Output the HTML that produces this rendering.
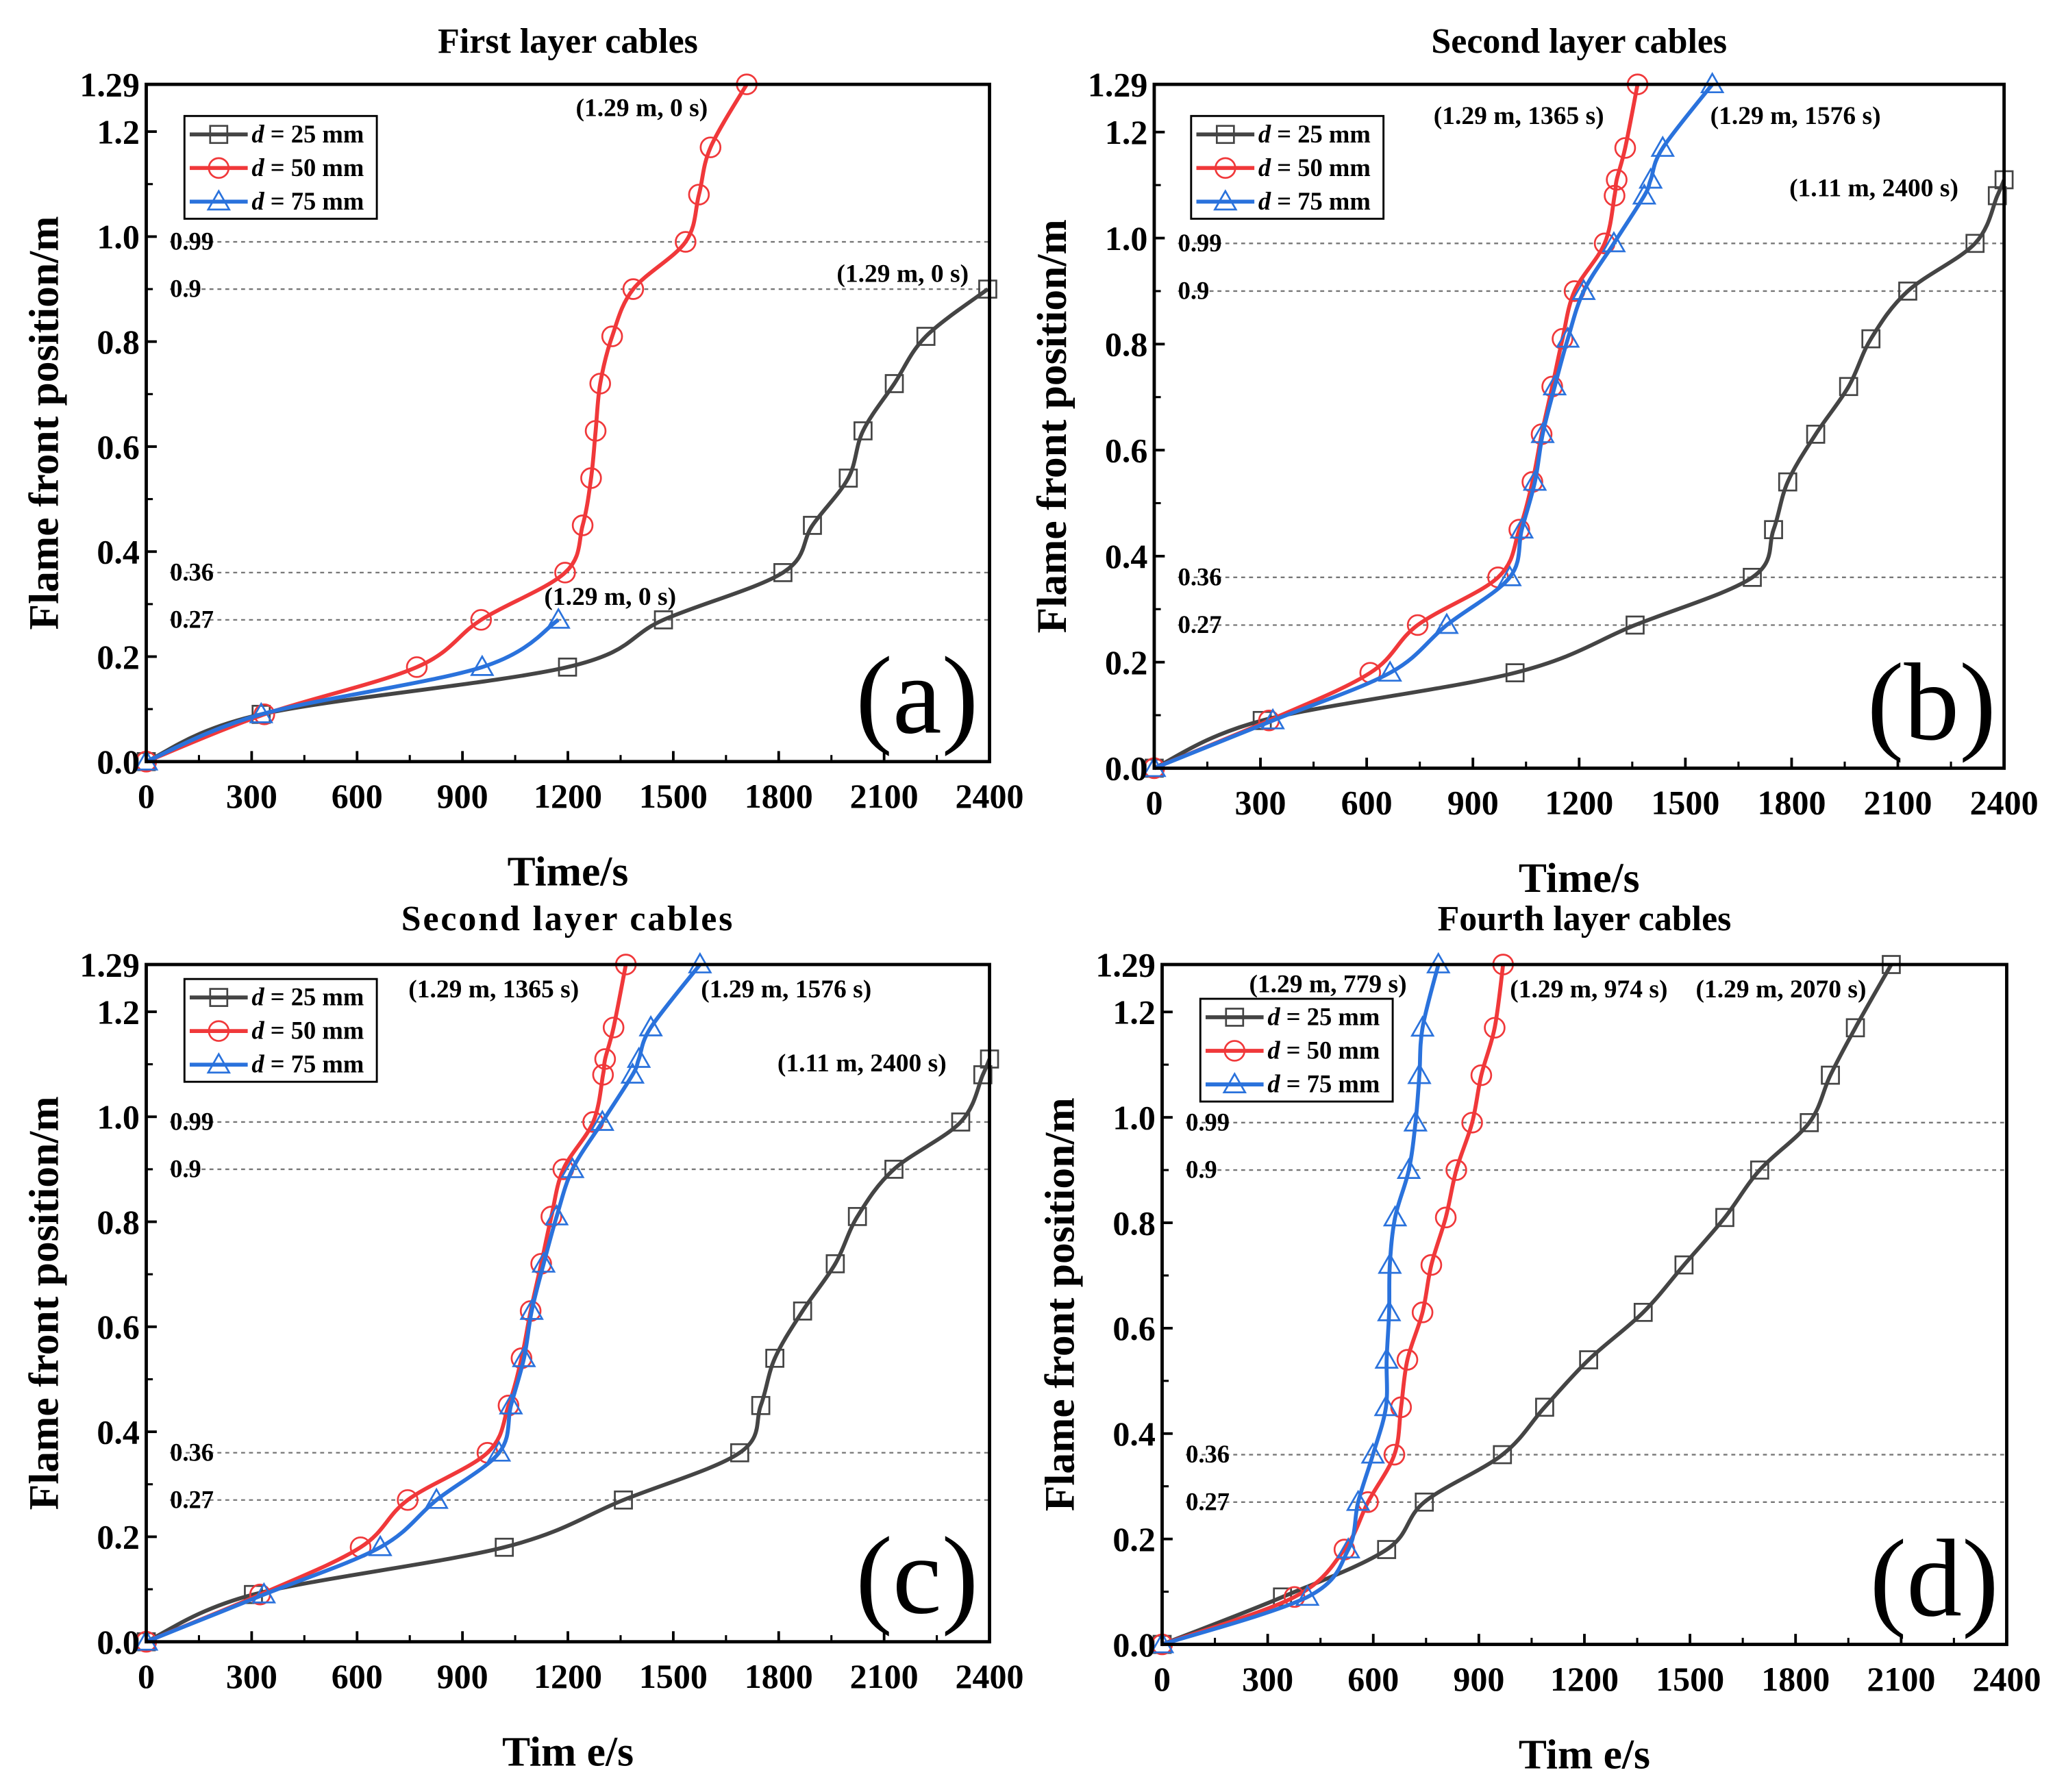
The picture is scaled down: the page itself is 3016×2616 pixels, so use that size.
<!DOCTYPE html>
<html><head><meta charset="utf-8">
<style>
html,body{margin:0;padding:0;background:#fff;}
svg{display:block;}
text{font-family:"Liberation Serif",serif;}
</style></head>
<body>
<svg id="fig" width="3016" height="2616" viewBox="0 0 1568 1360" xmlns="http://www.w3.org/2000/svg"></svg>
<script>
// ---------- data ----------
const yLevels = [0,0.09,0.18,0.27,0.36,0.45,0.54,0.63,0.72,0.81,0.90,0.99,1.08,1.17,1.29];
const xTicks = [0,300,600,900,1200,1500,1800,2100,2400];
const yTicks = [0,0.2,0.4,0.6,0.8,1.0,1.2];
const yTickLabels = ["0.0","0.2","0.4","0.6","0.8","1.0","1.2"];
const refLines = [0.27,0.36,0.9,0.99];
const refLabels = ["0.27","0.36","0.9","0.99"];

// panel (a): first layer
const aT25 = [0,327,1199,1472,1812,1896,1998,2040,2129,2219,2395];
const aY25 = [0,0.09,0.18,0.27,0.36,0.45,0.54,0.63,0.72,0.81,0.90];
const aT50 = [0,336,770,953,1192,1242,1266,1279,1292,1326,1386,1535,1573,1606,1709];
const aY50 = [0,0.09,0.18,0.27,0.36,0.45,0.54,0.63,0.72,0.81,0.90,0.99,1.08,1.17,1.29];
const aT75 = [0,327,956,1173];
const aY75 = [0,0.09,0.18,0.27];

// panels (b) and (c): second layer
const bT25 = [0,305,1019,1358,1689,1749,1789,1868,1961,2024,2128,2318,2381,2400];
const bY25 = [0,0.09,0.18,0.27,0.36,0.45,0.54,0.63,0.72,0.81,0.90,0.99,1.08,1.11];
const bT50 = [0,324,610,744,971,1031,1068,1094,1124,1153,1187,1272,1300,1306,1330,1365];
const bY50 = [0,0.09,0.18,0.27,0.36,0.45,0.54,0.63,0.72,0.81,0.90,0.99,1.08,1.11,1.17,1.29];
const bT75 = [0,335,666,826,1004,1038,1075,1097,1131,1168,1213,1298,1384,1402,1436,1576];
const bY75 = [0,0.09,0.18,0.27,0.36,0.45,0.54,0.63,0.72,0.81,0.90,0.99,1.08,1.11,1.17,1.29];

// panel (d): fourth layer
const dT25 = [0,342,638,745,967,1087,1212,1367,1483,1599,1698,1839,1899,1970,2072];
const dY25 = [0,0.09,0.18,0.27,0.36,0.45,0.54,0.63,0.72,0.81,0.90,0.99,1.08,1.17,1.29];
const dT50 = [0,376,518,585,660,679,697,740,765,806,836,881,907,945,969];
const dY50 = dY25;
const dT75 = [0,413,529,557,599,636,638,645,647,662,701,720,731,740,785];
const dY75 = dY25;

const NS = "http://www.w3.org/2000/svg";
const fig = document.getElementById('fig');
const COL = {k:"#444444", r:"#f0383a", b:"#2a72dc"};

function el(tag, attrs, parent){
  const e = document.createElementNS(NS, tag);
  for (const k in attrs) e.setAttribute(k, attrs[k]);
  (parent||fig).appendChild(e);
  return e;
}
function txt(s, attrs, parent){ const t = el('text', attrs, parent); t.textContent = s; return t; }

function catmull(pts){
  if (pts.length < 2) return "";
  let d = "M"+pts[0][0]+","+pts[0][1];
  for (let i=0;i<pts.length-1;i++){
    const p0 = pts[Math.max(0,i-1)], p1 = pts[i], p2 = pts[i+1], p3 = pts[Math.min(pts.length-1,i+2)];
    const t = 0.5/3;
    const c1x = p1[0]+(p2[0]-p0[0])*t, c1y = p1[1]+(p2[1]-p0[1])*t;
    const c2x = p2[0]-(p3[0]-p1[0])*t, c2y = p2[1]-(p3[1]-p1[1])*t;
    d += " C"+c1x+","+c1y+" "+c2x+","+c2y+" "+p2[0]+","+p2[1];
  }
  return d;
}

function marker(g, type, x, y, color){
  let m;
  if (type==='sq') m = el('rect',{x:x-6.5,y:y-6.5,width:13,height:13,fill:'none',stroke:color,'stroke-width':1.4},g);
  else if (type==='ci') m = el('circle',{cx:x,cy:y,r:7.5,fill:'none',stroke:color,'stroke-width':1.4},g);
  else m = el('path',{d:`M${x},${y-8} L${x+8},${y+6} L${x-8},${y+6} Z`,fill:'none',stroke:color,'stroke-width':1.4},g);
  return m;
}

function panel(P){
  const g = el('g',{});
  
  
  const L=P.L,R=P.R,T=P.T,B=P.B;
  const xs = v => L + (v/2400)*(R-L);
  const ys = v => B - (v/1.29)*(B-T);

  const ti = txt(P.title,{x:(L+R)/2,y:P.titleY,'text-anchor':'middle','font-size':27,'font-weight':'bold','letter-spacing':P.ls||0},g);
  
  

  refLines.forEach((v,i)=>{
    const ln = el('line',{x1:L+18,x2:R,y1:ys(v),y2:ys(v),stroke:'#777','stroke-width':1.2,'stroke-dasharray':'3,3'},g);
    
    
    const lb = txt(refLabels[i],{x:L+18,y:ys(v)+6,'font-size':19,'font-weight':'bold'},g);
    
    
  });

  const series = [
    {t:P.t25,y:P.y25,c:COL.k,m:'sq',n:'series-d25'},
    {t:P.t50,y:P.y50,c:COL.r,m:'ci',n:'series-d50'},
    {t:P.t75,y:P.y75,c:COL.b,m:'tr',n:'series-d75'}
  ];
  series.forEach(s=>{
    const sg = el('g',{},g);
    
    
    const pts = s.t.map((t,i)=>[xs(t),ys(s.y[i])]);
    const p = el('path',{d:catmull(pts),fill:'none',stroke:s.c,'stroke-width':3},sg);
    
    
    pts.forEach(pt=>{
      const mk = marker(sg, s.m, pt[0], pt[1], s.c);
      
      
    });
  });

  const fr = el('rect',{x:L,y:T,width:R-L,height:B-T,fill:'none',stroke:'#000','stroke-width':2.5},g);
  
  

  xTicks.forEach(v=>{
    const x = xs(v);
    el('line',{x1:x,x2:x,y1:B,y2:B-8,stroke:'#000','stroke-width':2},g);
    const lb = txt(String(v),{x:x,y:B+35,'text-anchor':'middle','font-size':26,'font-weight':'bold'},g);
    
    
  });
  for (let v=150; v<2400; v+=300){ const x=xs(v); el('line',{x1:x,x2:x,y1:B,y2:B-5,stroke:'#000','stroke-width':1.6},g); }
  yTicks.forEach((v,i)=>{
    const y = ys(v);
    el('line',{x1:L,x2:L+8,y1:y,y2:y,stroke:'#000','stroke-width':2},g);
    const lb = txt(yTickLabels[i],{x:L-5,y:y+9,'text-anchor':'end','font-size':26,'font-weight':'bold'},g);
    
    
  });
  for (let v=0.1; v<1.29; v+=0.2){ const y=ys(v); el('line',{x1:L,x2:L+5,y1:y,y2:y,stroke:'#000','stroke-width':1.6},g); }
  const top = txt("1.29",{x:L-5,y:T+9,'text-anchor':'end','font-size':26,'font-weight':'bold'},g);
  
  

  const xt = txt(P.xTitle,{x:(L+R)/2,y:B+94,'text-anchor':'middle','font-size':32,'font-weight':'bold'},g);
  
  
  const cy=(T+B)/2, cx=L-67;
  const yt = txt("Flame front position/m",{x:cx,y:cy,'text-anchor':'middle','font-size':32,'font-weight':'bold',transform:`rotate(-90 ${cx} ${cy})`},g);
  
  

  const pl = txt("("+P.id+")",{x:R-55,y:B-22,'text-anchor':'middle','font-size':84},g);
  
  

  P.ann.forEach(a=>{
    const at = txt(a[0],{x:a[1],y:a[2],'font-size':19.5,'font-weight':'bold'},g);
    
    
  });

  const lg = el('g',{},g);
  
  
  const LX=P.lx, LY=P.ly;
  el('rect',{x:LX,y:LY,width:146,height:78,fill:'#fff',stroke:'#000','stroke-width':1.5},lg);
  const ent = [[COL.k,'sq','25'],[COL.r,'ci','50'],[COL.b,'tr','75']];
  ent.forEach((e,i)=>{
    const yy = LY+14+i*25.5;
    const eg = el('g',{},lg);
    
    
    el('line',{x1:LX+4,x2:LX+48,y1:yy,y2:yy,stroke:e[0],'stroke-width':3},eg);
    marker(eg,e[1],LX+26,yy,e[0]);
    const t = el('text',{x:LX+51,y:yy+6,'font-size':19,'font-weight':'bold'},eg);
    const ti2 = document.createElementNS(NS,'tspan'); ti2.setAttribute('font-style','italic'); ti2.textContent='d'; t.appendChild(ti2);
    const tn = document.createElementNS(NS,'tspan'); tn.textContent=' = '+e[2]+' mm'; t.appendChild(tn);
  });
}

panel({id:'a',title:'First layer cables',titleY:40,L:111,R:751,T:64,B:578,xTitle:'Time/s',
  t25:aT25,y25:aY25,t50:aT50,y50:aY50,t75:aT75,y75:aY75,lx:140,ly:88,
  ann:[["(1.29 m, 0 s)",437,88],["(1.29 m, 0 s)",635,214],["(1.29 m, 0 s)",413,459]]});
panel({id:'b',title:'Second layer cables',titleY:40,L:876,R:1521,T:64,B:583,xTitle:'Time/s',
  t25:bT25,y25:bY25,t50:bT50,y50:bY50,t75:bT75,y75:bY75,lx:904,ly:88,
  ann:[["(1.29 m, 1365 s)",1088,94],["(1.29 m, 1576 s)",1298,94],["(1.11 m, 2400 s)",1358,149]]});
panel({id:'c',title:'Second layer cables',titleY:706,ls:1.5,L:111,R:751,T:732,B:1246,xTitle:'Tim e/s',
  t25:bT25,y25:bY25,t50:bT50,y50:bY50,t75:bT75,y75:bY75,lx:140,ly:743,
  ann:[["(1.29 m, 1365 s)",310,757],["(1.29 m, 1576 s)",532,757],["(1.11 m, 2400 s)",590,813]]});
panel({id:'d',title:'Fourth layer cables',titleY:706,L:882,R:1523,T:732,B:1248,xTitle:'Tim e/s',
  t25:dT25,y25:dY25,t50:dT50,y50:dY50,t75:dT75,y75:dY75,lx:911,ly:758,
  ann:[["(1.29 m, 779 s)",948,753],["(1.29 m, 974 s)",1146,757],["(1.29 m, 2070 s)",1287,757]]});
</script>
</body></html>
